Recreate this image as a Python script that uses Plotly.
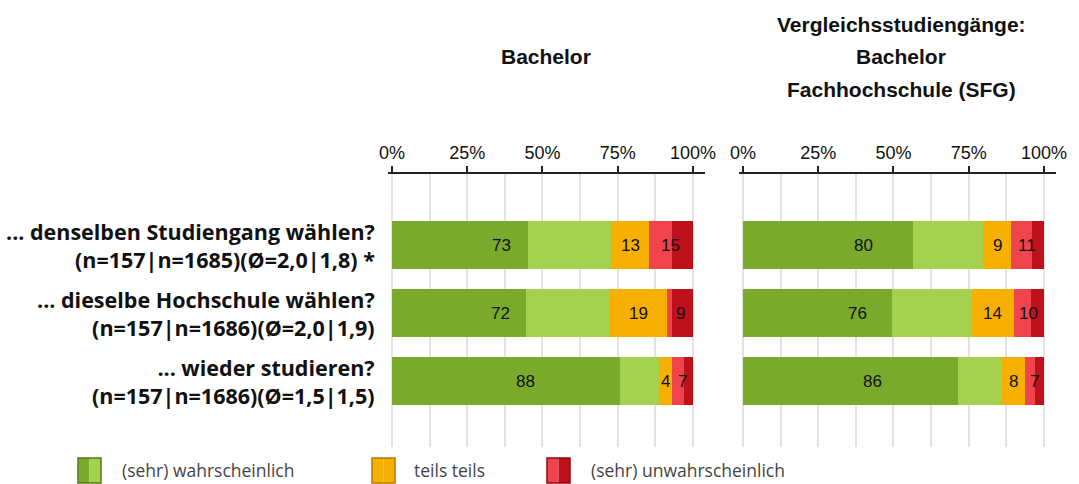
import plotly.graph_objects as go

W, H = 1079, 484

categories = [
    "... denselben Studiengang wählen?<br>(n=157|n=1685)(Ø=2,0|1,8) *",
    "... dieselbe Hochschule wählen?<br>(n=157|n=1686)(Ø=2,0|1,9)",
    "... wieder studieren?<br>(n=157|n=1686)(Ø=1,5|1,5)",
]
series_names = ["sehr wahrscheinlich", "wahrscheinlich", "teils teils",
                "unwahrscheinlich", "sehr unwahrscheinlich"]
colors = ["#7aaa2c", "#a4d24f", "#f7af00", "#f0444c", "#bf111b"]

# Bachelor (percent per segment)
bach_sehr_wahr = [45.1, 44.5, 75.7]
bach_wahr = [27.8, 27.6, 13.0]
bach_teils = [12.5, 19.3, 4.3]
bach_unwahr = [7.7, 1.6, 4.0]
bach_sehr_unwahr = [6.9, 7.0, 3.0]
bach_labels = [[73, 13, 15], [72, 19, 9], [88, 4, 7]]

# Vergleichsstudiengänge
sfg_sehr_wahr = [56.4, 49.5, 71.4]
sfg_wahr = [23.4, 26.5, 14.5]
sfg_teils = [9.2, 14.0, 7.7]
sfg_unwahr = [7.0, 5.7, 3.4]
sfg_sehr_unwahr = [4.0, 4.3, 3.0]
sfg_labels = [[80, 9, 11], [76, 14, 10], [86, 8, 7]]

tick_vals = [0, 25, 50, 75, 100]
tick_text = ["0%", "25%", "50%", "75%", "100%"]


def px(x):
    return x / W


def py(y):
    return 1 - y / H


fig = go.Figure()
panels = [
    ("x", "y", [bach_sehr_wahr, bach_wahr, bach_teils, bach_unwahr, bach_sehr_unwahr], bach_labels),
    ("x2", "y2", [sfg_sehr_wahr, sfg_wahr, sfg_teils, sfg_unwahr, sfg_sehr_unwahr], sfg_labels),
]
annotations = []
for xa, ya, segs, labels in panels:
    for name, vals, col in zip(series_names, segs, colors):
        fig.add_trace(go.Bar(
            x=vals, y=categories, orientation="h", name=name,
            marker=dict(color=col, line=dict(width=0)),
            width=0.71, xaxis=xa, yaxis=ya, showlegend=False,
            hoverinfo="x+name",
        ))
    # group labels centred on green / orange / red spans
    for i, cat in enumerate(categories):
        g = segs[0][i] + segs[1][i]
        o = segs[2][i]
        r = segs[3][i] + segs[4][i]
        mids = [g / 2, g + o / 2, g + o + r / 2]
        for m, lab in zip(mids, labels[i]):
            annotations.append(dict(
                x=m, y=cat, xref=xa, yref=ya, text=str(lab), showarrow=False,
                font=dict(family="Liberation Sans, Arial", size=17, color="#111"),
            ))

axis_common = dict(
    range=[-1.5, 104], side="top", tickvals=tick_vals, ticktext=tick_text,
    tickfont=dict(family="Liberation Sans, Arial", size=18, color="#111"),
    showline=True, linecolor="#222", linewidth=2,
    ticks="outside", ticklen=6, tickwidth=2, tickcolor="#222",
    showgrid=True, gridcolor="#e3e3e3", gridwidth=2,
    minor=dict(dtick=12.5, tick0=0, showgrid=True, gridcolor="#e3e3e3", gridwidth=2, ticks=""),
    zeroline=False, fixedrange=True, automargin=False,
)
y_dom = [1 - 447 / H, 1 - 174 / H]
yaxis_common = dict(
    type="category", categoryorder="array", categoryarray=categories,
    range=[2.97, -1.05], showticklabels=False, showgrid=False,
    zeroline=False, showline=False, domain=y_dom, fixedrange=True, automargin=False,
)

fig.update_layout(
    barmode="stack",
    width=W, height=H,
    margin=dict(l=0, r=0, t=0, b=0, autoexpand=False),
    paper_bgcolor="white", plot_bgcolor="white",
    xaxis=dict(domain=[px(387.5), px(705)], anchor="y", **axis_common),
    xaxis2=dict(domain=[px(738.5), px(1056)], anchor="y2", **axis_common),
    yaxis=dict(anchor="x", **yaxis_common),
    yaxis2=dict(anchor="x2", **yaxis_common),
    showlegend=False,
)

# category labels
for cat in categories:
    annotations.append(dict(
        x=px(377), y=cat, xref="paper", yref="y", xanchor="right", yanchor="middle",
        align="right", text=f"<b>{cat}</b>", showarrow=False,
        font=dict(family="Open Sans", size=21.5, color="#111"),
    ))

# panel titles
title_font = dict(family="Liberation Sans, Arial", size=21, color="#111")
for text, x, y in [("Bachelor", 545.5, 56),
                   ("Vergleichsstudiengänge:", 901, 24),
                   ("Bachelor", 901, 56),
                   ("Fachhochschule (SFG)", 901, 90)]:
    annotations.append(dict(
        x=px(x), y=py(y), xref="paper", yref="paper", xanchor="center", yanchor="middle",
        text=f"<b>{text}</b>", showarrow=False, font=title_font,
    ))

# custom legend with two-tone swatches
legend_items = [
    ("(sehr) wahrscheinlich", 78, [colors[0], colors[1]], "#55771c", 120),
    ("teils teils", 372, [colors[2], colors[2]], "#b07d00", 412),
    ("(sehr) unwahrscheinlich", 547, [colors[3], colors[4]], "#8a0c13", 589),
]
shapes = []
for text, x0, cols, edge, tx in legend_items:
    sw, y0, y1 = 23, 458, 483
    shapes.append(dict(type="rect", xref="paper", yref="paper",
                       x0=px(x0), x1=px(x0 + sw / 2), y0=py(y1), y1=py(y0),
                       fillcolor=cols[0], line=dict(width=0)))
    shapes.append(dict(type="rect", xref="paper", yref="paper",
                       x0=px(x0 + sw / 2), x1=px(x0 + sw), y0=py(y1), y1=py(y0),
                       fillcolor=cols[1], line=dict(width=0)))
    shapes.append(dict(type="rect", xref="paper", yref="paper",
                       x0=px(x0), x1=px(x0 + sw), y0=py(y1), y1=py(y0),
                       fillcolor="rgba(0,0,0,0)", line=dict(color=edge, width=1.5)))
    annotations.append(dict(
        x=px(tx), y=py(470), xref="paper", yref="paper", xanchor="left", yanchor="middle",
        text=text, showarrow=False,
        font=dict(family="Open Sans", size=17.5, color="#444"),
    ))

fig.update_layout(annotations=annotations, shapes=shapes)

# drop the default body margin and any scrollbars so the figure sits at 0,0
fig.write_html(
    "out.html",
    config={"displayModeBar": False},
    post_script="document.body.style.margin='0';"
                "document.body.style.overflow='hidden';"
                "document.documentElement.style.overflow='hidden';",
)
